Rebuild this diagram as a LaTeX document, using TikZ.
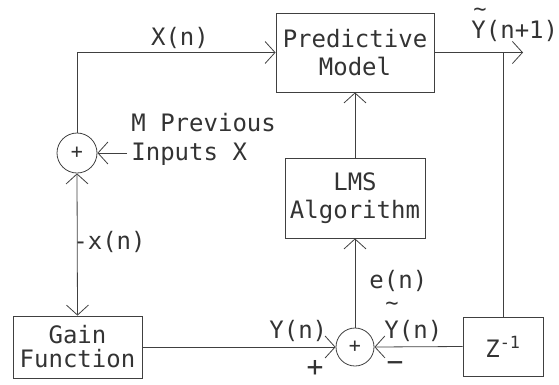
\documentclass[tikz,border=0pt]{standalone}
\usepackage{fontspec}
\setmonofont{DejaVu Sans Mono}
\usetikzlibrary{arrows.meta}
\begin{document}
\begin{tikzpicture}[x=1pt,y=-1pt,
  line width=0.8pt, color=black!75,
  >={Straight Barb[length=10pt,width=22pt]},
  every node/.style={font=\ttfamily\fontsize{24}{28}\selectfont, text=black!80},
  block/.style={draw, rectangle, align=center, inner sep=0pt},
  sumnode/.style={draw, circle, inner sep=0pt, minimum size=40pt,
    font=\ttfamily\fontsize{20}{20}\selectfont},
  lbl/.style={inner sep=0pt},
  tildemark/.style={inner sep=0pt, font=\ttfamily\fontsize{22}{22}\selectfont},
  sign/.style={inner sep=0pt, font=\ttfamily\fontsize{28}{28}\selectfont}
]
\useasboundingbox (0,0) rectangle (559,384);

% blocks
\node[block, minimum width=158pt, minimum height=79pt] (pm) at (355,52.5) {Predictive\\Model};
\node[block, minimum width=140pt, minimum height=80pt] (lms) at (355,198) {LMS\\Algorithm};
\node[block, minimum width=129pt, minimum height=62pt,
      font=\ttfamily\fontsize{24}{24}\selectfont] (gain) at (77.5,347) {Gain\\Function};
\node[block, minimum width=80pt, minimum height=59pt] (z) at (503,346.5) {Z\textsuperscript{-1}};

% summing junctions
\node[sumnode] (s1) at (77,153) {+};
\node[sumnode, minimum size=38pt] (s2) at (355,347) {+};

% free ends
\coordinate (out) at (523,52.5);
\coordinate (tap) at (503,52.5);
\coordinate (prev) at (127,153);

% connectors
\draw[->] (pm.east) -- (out);
\draw (tap) -- (z.north);
\draw[->] (s1.north) |- (pm.west);
\draw[<->] (s1.south) -- (gain.north);
\draw[->] (prev) -- (s1.east);
\draw[->] (lms.north) -- (pm.south);
\draw[->] (s2.north) -- (lms.south);
\draw[->] (gain.east) -- (s2.west);
\draw[->] (z.west) -- (s2.east);

% signal labels
\node[lbl, anchor=base] (lx) at (180,45) {X(n)};
\node[lbl, anchor=base west] (lm1) at (131,131) {M Previous};
\node[lbl, anchor=base west] (lm2) at (131,160) {Inputs X};
\node[lbl, anchor=base west] (lxn) at (73,249) {-x(n)};
\node[tildemark, anchor=base] (lt1) at (480,16) {\smash{\textasciitilde}};
\node[lbl, anchor=base west] (lyp) at (471,38) {Y(n+1)};
\node[lbl, anchor=base west] (le) at (369,288) {e(n)};
\node[tildemark, anchor=base] (lt2) at (392,310) {\smash{\textasciitilde}};
\node[lbl, anchor=base west] (lyr) at (384,338) {Y(n)};
\node[lbl, anchor=base west] (lyl) at (269,338) {Y(n)};
\node[sign] (lplus) at (315,368) {+};
\node[sign] (lminus) at (395,367) {−};
\end{tikzpicture}
\end{document}
